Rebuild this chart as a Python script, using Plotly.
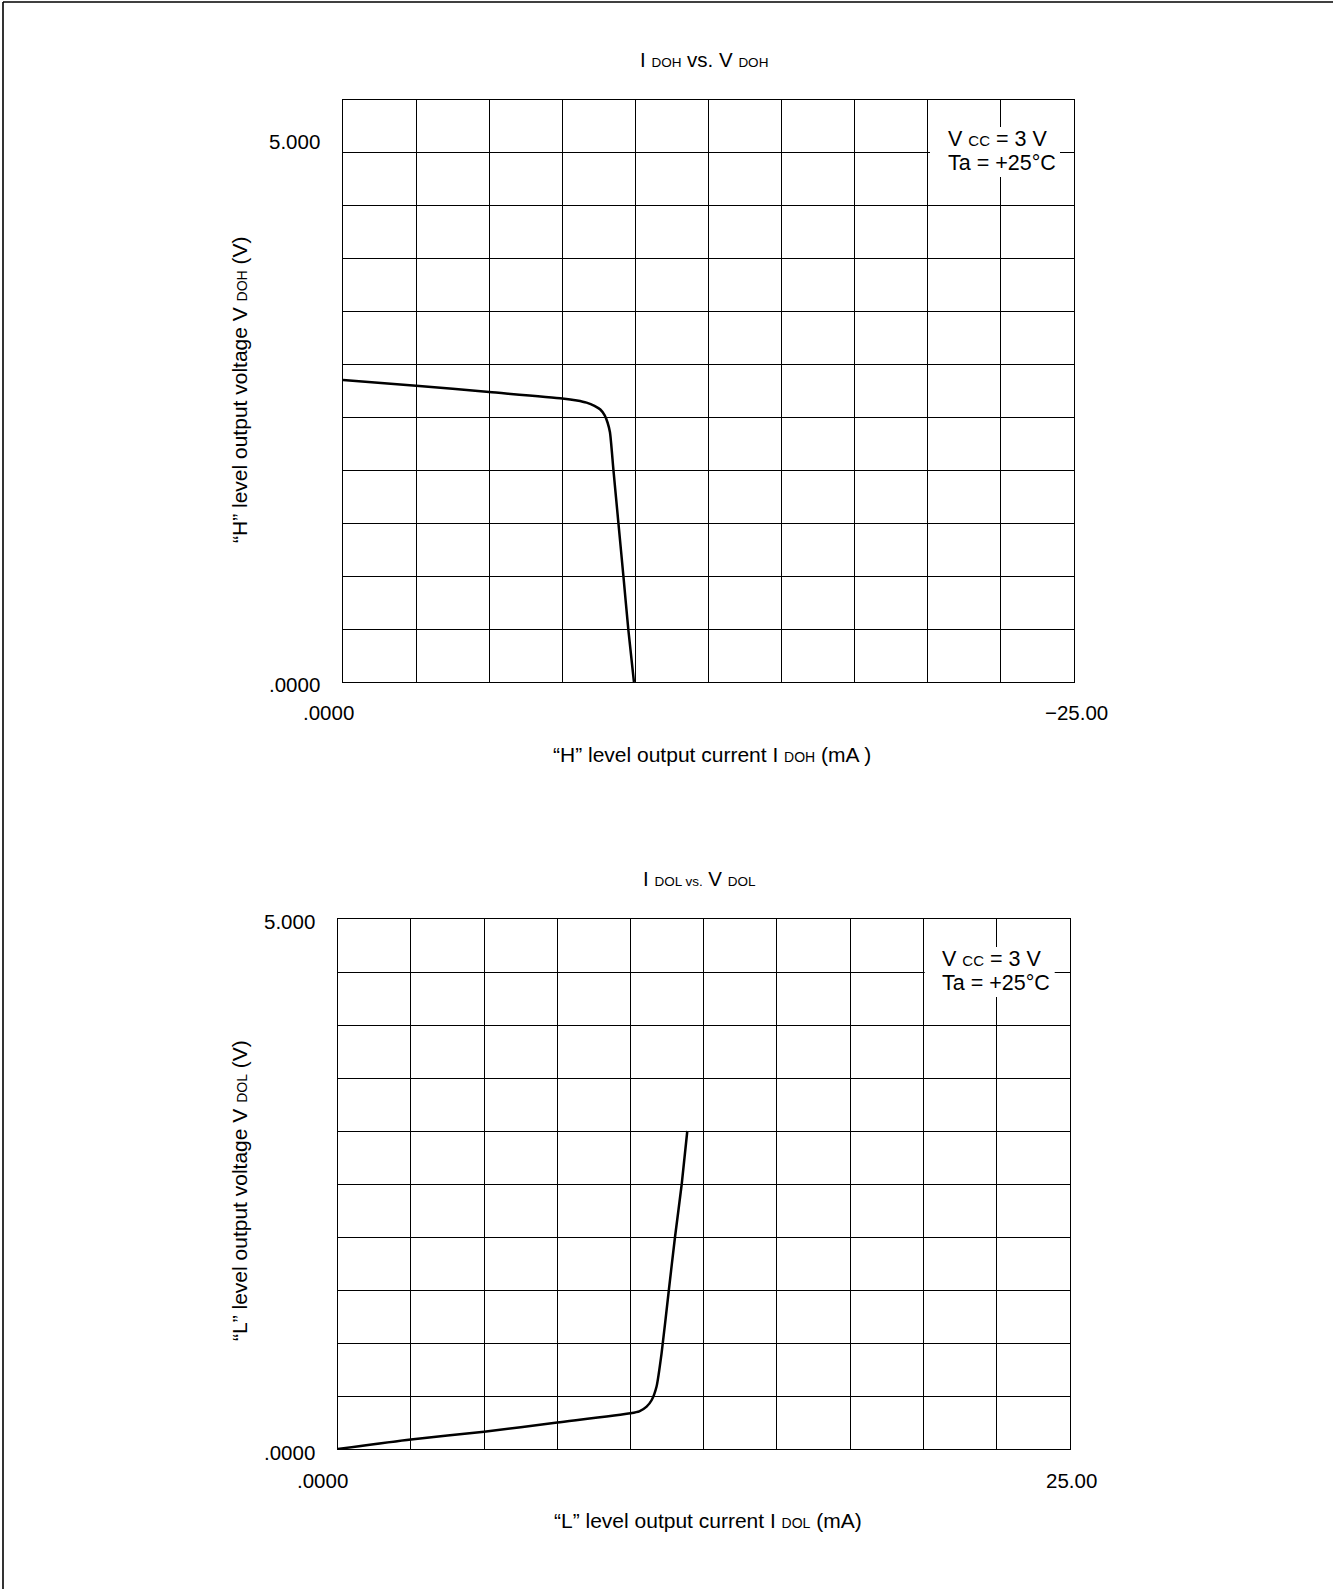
import plotly.graph_objects as go

W, H = 1333, 1589

# ---- data ----
i_doh = [0, -2.5, -5.0, -7.5, -8.0, -8.33, -8.6, -8.8, -8.95, -9.05, -9.13, -9.25, -9.42, -9.59, -9.76, -9.95]
v_doh = [2.854, 2.80, 2.74, 2.68, 2.66, 2.64, 2.61, 2.575, 2.52, 2.45, 2.36, 2.00, 1.50, 1.00, 0.49, 0.0]

i_dol = [0, 2.5, 5.0, 7.5, 10.0, 10.3, 10.55, 10.72, 10.89, 11.06, 11.31, 11.52, 11.75, 11.94]
v_dol = [0, 0.09, 0.163, 0.25, 0.337, 0.355, 0.40, 0.46, 0.59, 0.90, 1.50, 2.00, 2.50, 3.0]

top_xticks = [".0000", "\u221225.00"]
top_yticks = [".0000", "5.000"]
bot_xticks = [".0000", "25.00"]
bot_yticks = [".0000", "5.000"]

FONT = "Liberation Sans, Arial, sans-serif"


def px(x):
    return x / W


def py(y):
    return 1 - y / H


def small(t, s=13):
    return f"<span style='font-size:{s}px'>{t}</span>"


fig = go.Figure()
fig.add_trace(go.Scatter(x=i_doh, y=v_doh, mode="lines", xaxis="x", yaxis="y",
                         line=dict(color="black", width=2.5, shape="spline", smoothing=0.6),
                         showlegend=False, hoverinfo="skip"))
fig.add_trace(go.Scatter(x=i_dol, y=v_dol, mode="lines", xaxis="x2", yaxis="y2",
                         line=dict(color="black", width=2.5, shape="spline", smoothing=0.6),
                         showlegend=False, hoverinfo="skip"))

axis_common = dict(showgrid=True, gridcolor="black", gridwidth=1.4, showline=True,
                   linecolor="black", linewidth=1.4, mirror=True, zeroline=False,
                   showticklabels=False, ticks="", fixedrange=True)

fig.update_layout(
    width=W, height=H,
    margin=dict(l=0, r=0, t=0, b=0),
    paper_bgcolor="white", plot_bgcolor="white",
    font=dict(family=FONT, color="black", size=18),
    xaxis=dict(domain=[px(343), px(1074)], range=[0, -25], dtick=2.5, tick0=0,
               anchor="y", **axis_common),
    yaxis=dict(domain=[py(682), py(100)], range=[0, 5.5], dtick=0.5, tick0=0,
               anchor="x", **axis_common),
    xaxis2=dict(domain=[px(337.7), px(1069.7)], range=[0, 25], dtick=2.5, tick0=0,
                anchor="y2", **axis_common),
    yaxis2=dict(domain=[py(1449), py(919)], range=[0, 5], dtick=0.5, tick0=0,
                anchor="x2", **axis_common),
)

ann = []


def text(x, y, t, size=18, xanchor="center", angle=0):
    ann.append(dict(x=px(x), y=py(y), xref="paper", yref="paper", text=t, showarrow=False,
                    xanchor=xanchor, yanchor="middle", textangle=angle,
                    font=dict(family=FONT, size=size, color="black")))


# titles
text(704, 59, "I " + small("DOH", 13.5) + " vs. V " + small("DOH", 13.5), size=20.5)
text(699.5, 878, "I " + small("DOL vs.", 13.5) + " V " + small("DOL", 13.5), size=20.5)

# axis titles
text(239, 390, "\u201cH\u201d level output voltage V " + small("DOH", 14) + " (V)", size=21, angle=-90)
text(712, 754, "\u201cH\u201d level output current I " + small("DOH", 14) + " (mA )", size=21)
text(239, 1191, "\u201cL\u201d level output voltage V " + small("DOL", 14) + " (V)", size=21, angle=-90)
text(707.6, 1520.6, "\u201cL\u201d level output current I " + small("DOL", 14) + " (mA)", size=21)

# tick labels
TS = 20.5
text(322, 684, top_yticks[0], size=TS, xanchor="right")
text(322, 141.7, top_yticks[1], size=TS, xanchor="right")
text(328, 712, top_xticks[0], size=TS)
text(1076, 712, top_xticks[1], size=TS)
text(317, 1452.6, bot_yticks[0], size=TS, xanchor="right")
text(317, 921.5, bot_yticks[1], size=TS, xanchor="right")
text(322.4, 1480, bot_xticks[0], size=TS)
text(1071.5, 1480, bot_xticks[1], size=TS)

# condition boxes
vcc = "V " + small("CC", 15) + " = 3 V"
ta = "Ta = +25\u00b0C"
text(945.7, 139.3, vcc, size=21.5, xanchor="left")
text(945.7, 163.3, ta, size=21.5, xanchor="left")
text(940.4, 959.3, vcc, size=21.5, xanchor="left")
text(940.4, 983.3, ta, size=21.5, xanchor="left")

fig.update_layout(annotations=ann)

shapes = [
    dict(type="rect", xref="paper", yref="paper", x0=px(930), x1=px(1060), y0=py(177), y1=py(127),
         fillcolor="white", line=dict(width=0), layer="above"),
    dict(type="rect", xref="paper", yref="paper", x0=px(924.7), x1=px(1054.7), y0=py(997), y1=py(947),
         fillcolor="white", line=dict(width=0), layer="above"),
    dict(type="line", xref="paper", yref="paper", x0=px(3), x1=px(3), y0=0, y1=py(2),
         line=dict(color="black", width=1.6)),
    dict(type="line", xref="paper", yref="paper", x0=px(3), x1=1, y0=py(2), y1=py(2),
         line=dict(color="black", width=1.6)),
]
fig.update_layout(shapes=shapes)

fig.write_html("out.html", config={"displayModeBar": False},
               post_script="document.body.style.margin='0px';document.body.style.overflow='hidden';")
